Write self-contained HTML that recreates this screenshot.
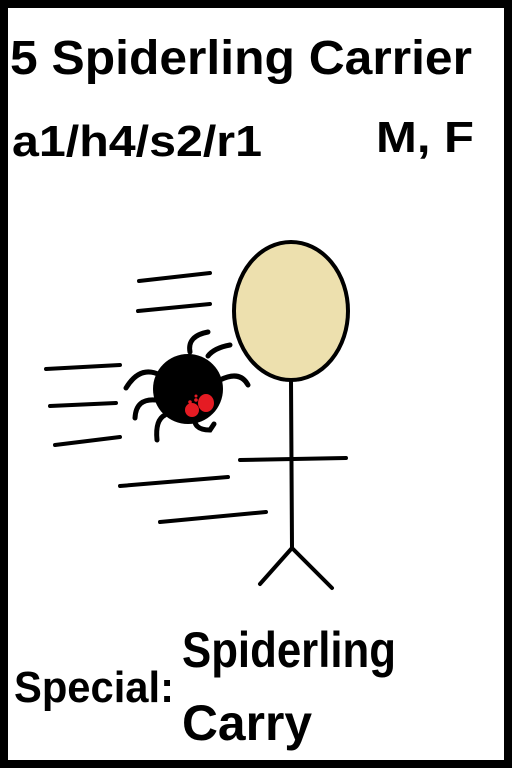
<!DOCTYPE html>
<html><head><meta charset="utf-8"><style>
html,body{margin:0;padding:0;background:#000;}
svg{display:block;}
text{font-family:"Liberation Sans",sans-serif;font-weight:bold;fill:#000;}
</style></head><body>
<svg width="512" height="768" viewBox="0 0 512 768">
<rect x="0" y="0" width="512" height="768" fill="#000"/>
<rect x="8" y="8" width="496" height="752" fill="#fff"/>
<text x="10" y="74" font-size="48" textLength="462" lengthAdjust="spacingAndGlyphs">5 Spiderling  Carrier</text>
<text x="12" y="156" font-size="44" textLength="250" lengthAdjust="spacingAndGlyphs">a1/h4/s2/r1</text>
<text x="376" y="152" font-size="44" textLength="98" lengthAdjust="spacingAndGlyphs">M, F</text>
<g stroke="#000" stroke-width="4" stroke-linecap="round" fill="none">
<line x1="139" y1="281" x2="210" y2="273"/>
<line x1="138" y1="311" x2="210" y2="304"/>
<line x1="46" y1="369" x2="120" y2="365"/>
<line x1="50" y1="406" x2="116" y2="403"/>
<line x1="55" y1="445" x2="120" y2="437"/>
<line x1="120" y1="486" x2="228" y2="477"/>
<line x1="160" y1="522" x2="266" y2="512"/>
</g>
<ellipse cx="291" cy="311" rx="57" ry="69" fill="#ede0ae" stroke="#000" stroke-width="4"/>
<g stroke="#000" stroke-width="4" stroke-linecap="round" fill="none">
<line x1="291" y1="380" x2="292" y2="548"/>
<line x1="240" y1="460" x2="346" y2="458"/>
<line x1="292" y1="548" x2="260" y2="584"/>
<line x1="292" y1="548" x2="332" y2="588"/>
</g>
<g>
<g stroke="#000" stroke-width="5" stroke-linecap="round" fill="none">
<path d="M190 352 Q187 336 208 332"/>
<path d="M208 356 Q214 348 230 345"/>
<path d="M220 380 Q240 370 248 385"/>
<path d="M160 375 Q140 365 126 388"/>
<path d="M156 400 Q136 398 135 418"/>
<path d="M165 415 Q155 420 157 440"/>
<path d="M195 415 Q192 430 210 430 L214 424"/>
</g>
<circle cx="188" cy="389" r="35" fill="#000"/>
<ellipse cx="206" cy="403" rx="8" ry="9" fill="#e51b23"/>
<ellipse cx="192" cy="410" rx="7" ry="7" fill="#e51b23"/>
<circle cx="196" cy="400" r="1.8" fill="#e51b23"/>
<circle cx="190" cy="402" r="1.8" fill="#e51b23"/>
<circle cx="196" cy="396" r="1.5" fill="#e51b23"/>
</g>
<text x="14" y="702" font-size="44" textLength="160" lengthAdjust="spacingAndGlyphs">Special:</text>
<text x="182" y="667" font-size="50" textLength="214" lengthAdjust="spacingAndGlyphs">Spiderling</text>
<text x="182" y="740" font-size="50" textLength="130" lengthAdjust="spacingAndGlyphs">Carry</text>
</svg>
</body></html>
